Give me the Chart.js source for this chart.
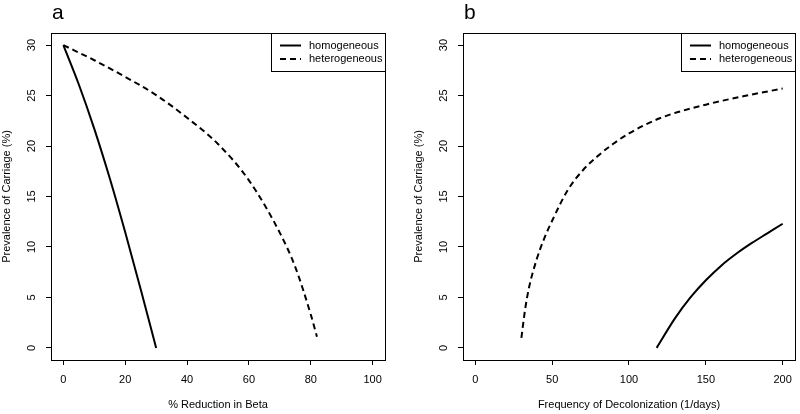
<!DOCTYPE html>
<html>
<head>
<meta charset="utf-8">
<script src="https://cdn.jsdelivr.net/npm/chart.js@4"></script>
<style>
    body { margin: 0; background: #fff; }
    .panel { position: absolute; top: 0; width: 400px; height: 414px; }
</style>
</head>
<body>
<div class="panel" style="left:0"><canvas id="chartA" width="400" height="414"></canvas></div>
<div class="panel" style="left:400px"><canvas id="chartB" width="400" height="414"></canvas></div>
<script>
// panel a: % reduction in beta
const betaHomX = [0, 5, 10, 15, 20, 25, 30];
const betaHomY = [30, 26.1, 21.7, 16.8, 11.45, 5.8, 0];
const betaHetX = [0, 10, 20, 30, 40, 50, 60, 70, 75, 80, 82];
const betaHetY = [30, 28.5, 26.85, 25.05, 22.8, 20.2, 16.6, 11.4, 8.0, 3.3, 1.1];

// panel b: frequency of decolonization
const decolHomX = [118, 130, 140, 150, 160, 170, 180, 190, 200];
const decolHomY = [0, 2.95, 5.0, 6.7, 8.15, 9.35, 10.4, 11.35, 12.3];
const decolHetX = [30, 32.5, 35, 40, 45, 50, 60, 70, 80, 90, 100, 120, 150, 175, 200];
const decolHetY = [1.0, 3.9, 6.0, 8.8, 10.9, 12.6, 15.6, 17.6, 19.05, 20.25, 21.25, 22.75, 24.1, 24.95, 25.7];

const seriesNames = ['homogeneous', 'heterogeneous'];
const yTicks = [0, 5, 10, 15, 20, 25, 30];
const xTicksA = [0, 20, 40, 60, 80, 100];
const xTicksB = [0, 50, 100, 150, 200];

const FONT = 'Liberation Sans, Arial, Helvetica, sans-serif';

function pts(xs, ys) {
    return xs.map((x, i) => ({ x: x, y: ys[i] }));
}

// box, rotated y labels, panel letter and legend, R style
const rStyle = {
    id: 'rStyle',
    afterDraw(chart) {
        const ctx = chart.ctx;
        const area = chart.chartArea;
        ctx.save();
        ctx.strokeStyle = '#000';
        ctx.lineWidth = 1;
        ctx.strokeRect(Math.round(area.left) + 0.5, Math.round(area.top) + 0.5,
            Math.round(area.right - area.left), Math.round(area.bottom - area.top));

        // y tick labels, rotated like R
        const ys = chart.scales.y;
        ctx.fillStyle = '#000';
        ctx.font = '11px ' + FONT;
        ctx.textAlign = 'center';
        ctx.textBaseline = 'middle';
        ys.ticks.forEach(t => {
            const py = ys.getPixelForValue(t.value);
            ctx.save();
            ctx.translate(area.left - 19.5, py);
            ctx.rotate(-Math.PI / 2);
            ctx.fillText(String(t.value), 0, 0);
            ctx.restore();
        });

        // panel letter
        ctx.font = '21px ' + FONT;
        ctx.textAlign = 'left';
        ctx.fillText(chart.options.plugins.rStyle.letter, area.left + 1, 13);

        // legend
        const w = 114, h = 38;
        const lx = area.right - w, ly = area.top;
        ctx.strokeRect(Math.round(lx) + 0.5, Math.round(ly) + 0.5, w, h);
        ctx.font = '11px ' + FONT;
        chart.data.datasets.forEach((ds, i) => {
            const yy = ly + 12.5 + i * 13.5;
            ctx.beginPath();
            ctx.lineWidth = 2;
            ctx.setLineDash(ds.borderDash || []);
            ctx.moveTo(lx + 9, yy);
            ctx.lineTo(lx + 30, yy);
            ctx.stroke();
            ctx.setLineDash([]);
            ctx.fillText(ds.label, lx + 38, yy);
        });
        ctx.restore();
    }
};

function makeChart(id, letter, homX, homY, hetX, hetY, xMin, xMax, xTicks, xTitle, padLeft, padRight) {
    const ctx = document.getElementById(id).getContext('2d');
    return new Chart(ctx, {
        type: 'scatter',
        data: {
            datasets: [{
                label: seriesNames[0],
                data: pts(homX, homY),
                showLine: true,
                borderColor: '#000',
                borderWidth: 2,
                pointRadius: 0,
                cubicInterpolationMode: 'monotone'
            }, {
                label: seriesNames[1],
                data: pts(hetX, hetY),
                showLine: true,
                borderColor: '#000',
                borderWidth: 2,
                borderDash: [6, 4],
                pointRadius: 0,
                cubicInterpolationMode: 'monotone'
            }]
        },
        options: {
            responsive: false,
            devicePixelRatio: 1,
            animation: false,
            layout: { padding: { left: padLeft, right: padRight, top: 33, bottom: 0 } },
            plugins: {
                legend: { display: false },
                tooltip: { enabled: false },
                rStyle: { letter: letter }
            },
            scales: {
                x: {
                    type: 'linear',
                    min: xMin,
                    max: xMax,
                    afterBuildTicks: axis => { axis.ticks = xTicks.map(v => ({ value: v })); },
                    afterFit: scale => { scale.height = 54; },
                    grid: { drawOnChartArea: false, drawTicks: true, tickLength: 5, color: '#000' },
                    border: { display: false },
                    ticks: { color: '#000', font: { family: FONT, size: 11 }, padding: 8, maxRotation: 0 },
                    title: { display: true, text: xTitle, color: '#000', font: { family: FONT, size: 11 }, padding: { top: 0, bottom: 2 } }
                },
                y: {
                    type: 'linear',
                    min: -1.2,
                    max: 31.2,
                    afterBuildTicks: axis => { axis.ticks = yTicks.map(v => ({ value: v })); },
                    afterFit: scale => { scale.width = 51; },
                    grid: { drawOnChartArea: false, drawTicks: true, tickLength: 5, color: '#000' },
                    border: { display: false },
                    ticks: { display: false },
                    title: { display: true, text: 'Prevalence of Carriage (%)', color: '#000', font: { family: FONT, size: 11 }, padding: { top: 0, bottom: 0 } }
                }
            }
        },
        plugins: [rStyle]
    });
}

makeChart('chartA', 'a', betaHomX, betaHomY, betaHetX, betaHetY, -4, 104, xTicksA, '% Reduction in Beta', 0, 15);
makeChart('chartB', 'b', decolHomX, decolHomY, decolHetX, decolHetY, -8, 208, xTicksB, 'Frequency of Decolonization (1/days)', 12, 4);
</script>
</body>
</html>
